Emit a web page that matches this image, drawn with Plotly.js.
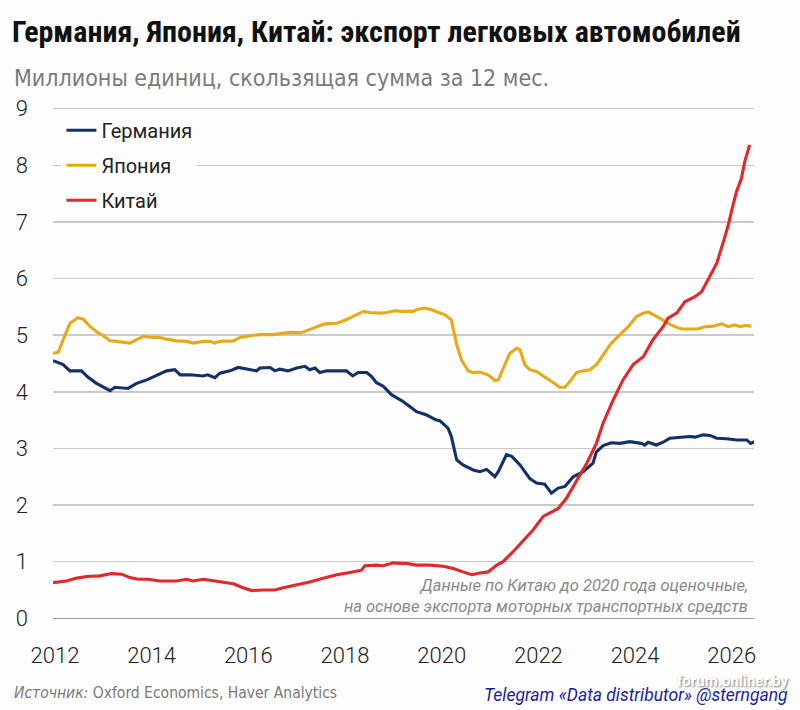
<!DOCTYPE html>
<html>
<head>
<meta charset="utf-8">
<script src="https://cdn.plot.ly/plotly-3.0.1.min.js"></script>
<style>
html,body{margin:0;padding:0;background:#fdfdfd;}
#chart{width:800px;height:710px;}
</style>
</head>
<body>
<div id="chart"></div>
<script>
// ---- Data (millions of units, 12-month rolling sum) ----
const seriesNames = ["Германия", "Япония", "Китай"];

const germanyX = [2011.96,2012.17,2012.31,2012.55,2012.68,2012.86,2013.14,2013.24,2013.51,2013.69,2013.90,2014.13,2014.31,2014.48,2014.59,2014.79,2015.06,2015.16,2015.31,2015.41,2015.62,2015.79,2016.03,2016.17,2016.24,2016.45,2016.55,2016.65,2016.82,2017.00,2017.17,2017.27,2017.38,2017.48,2017.62,2017.89,2018.03,2018.16,2018.27,2018.45,2018.55,2018.65,2018.79,2018.96,2019.20,2019.34,2019.48,2019.69,2019.89,2019.96,2020.13,2020.20,2020.31,2020.44,2020.65,2020.79,2020.93,2021.10,2021.17,2021.34,2021.45,2021.62,2021.82,2021.96,2022.13,2022.27,2022.41,2022.55,2022.72,2022.93,2023.13,2023.20,2023.34,2023.51,2023.69,2023.89,2024.13,2024.20,2024.27,2024.44,2024.58,2024.72,2024.93,2025.13,2025.24,2025.41,2025.55,2025.69,2025.89,2026.10,2026.31,2026.39,2026.48];
const germanyY = [4.55,4.48,4.37,4.37,4.26,4.15,4.02,4.08,4.06,4.15,4.21,4.30,4.37,4.39,4.30,4.30,4.28,4.30,4.25,4.33,4.37,4.43,4.39,4.37,4.42,4.43,4.37,4.40,4.37,4.42,4.45,4.39,4.42,4.34,4.37,4.37,4.37,4.28,4.34,4.34,4.27,4.16,4.10,3.95,3.83,3.74,3.65,3.59,3.50,3.49,3.36,3.21,2.80,2.71,2.62,2.59,2.63,2.50,2.59,2.89,2.86,2.71,2.47,2.39,2.37,2.21,2.30,2.33,2.50,2.59,2.74,2.94,3.05,3.10,3.09,3.12,3.09,3.06,3.11,3.06,3.11,3.18,3.20,3.21,3.20,3.24,3.23,3.18,3.17,3.15,3.15,3.09,3.12];

const japanX = [2011.96,2012.07,2012.17,2012.31,2012.48,2012.59,2012.72,2012.86,2013.00,2013.14,2013.28,2013.48,2013.55,2013.69,2013.83,2014.03,2014.17,2014.31,2014.52,2014.72,2014.86,2015.07,2015.21,2015.31,2015.41,2015.69,2015.83,2016.03,2016.24,2016.52,2016.72,2016.90,2017.07,2017.21,2017.41,2017.58,2017.83,2017.96,2018.14,2018.27,2018.38,2018.51,2018.72,2018.86,2019.03,2019.20,2019.41,2019.51,2019.65,2019.79,2019.93,2020.07,2020.20,2020.31,2020.41,2020.55,2020.65,2020.79,2020.96,2021.10,2021.17,2021.27,2021.41,2021.55,2021.62,2021.72,2021.82,2021.96,2022.13,2022.31,2022.44,2022.55,2022.65,2022.79,2022.93,2023.07,2023.20,2023.34,2023.51,2023.69,2023.86,2024.03,2024.17,2024.27,2024.37,2024.51,2024.68,2024.82,2024.96,2025.13,2025.30,2025.44,2025.62,2025.79,2025.93,2026.06,2026.17,2026.27,2026.41];
const japanY = [4.68,4.70,4.92,5.21,5.31,5.28,5.16,5.06,4.99,4.90,4.89,4.86,4.86,4.92,4.98,4.96,4.96,4.93,4.90,4.89,4.86,4.89,4.89,4.86,4.89,4.90,4.96,4.99,5.01,5.01,5.04,5.05,5.04,5.08,5.14,5.20,5.21,5.25,5.32,5.38,5.42,5.40,5.39,5.40,5.43,5.42,5.42,5.46,5.48,5.45,5.40,5.36,5.27,4.83,4.56,4.37,4.34,4.35,4.30,4.20,4.21,4.42,4.68,4.77,4.74,4.48,4.39,4.36,4.27,4.16,4.08,4.08,4.18,4.34,4.37,4.39,4.48,4.65,4.86,5.01,5.15,5.33,5.39,5.41,5.37,5.30,5.21,5.15,5.11,5.11,5.11,5.15,5.16,5.20,5.15,5.18,5.15,5.17,5.16];

const chinaX = [2011.96,2012.24,2012.45,2012.66,2012.93,2013.17,2013.38,2013.55,2013.72,2013.93,2014.17,2014.52,2014.72,2014.86,2015.07,2015.27,2015.48,2015.69,2015.89,2016.07,2016.31,2016.55,2016.72,2017.00,2017.27,2017.55,2017.83,2018.10,2018.34,2018.41,2018.65,2018.79,2019.00,2019.14,2019.27,2019.48,2019.76,2020.03,2020.24,2020.44,2020.62,2020.79,2020.96,2021.14,2021.27,2021.48,2021.69,2021.89,2022.10,2022.27,2022.41,2022.58,2022.79,2023.00,2023.20,2023.34,2023.55,2023.75,2023.96,2024.17,2024.37,2024.58,2024.68,2024.86,2025.03,2025.24,2025.38,2025.51,2025.69,2025.82,2025.93,2026.00,2026.10,2026.20,2026.27,2026.37];
const chinaY = [0.63,0.66,0.71,0.74,0.75,0.79,0.78,0.72,0.69,0.69,0.66,0.66,0.69,0.66,0.69,0.66,0.64,0.61,0.54,0.49,0.50,0.50,0.54,0.59,0.64,0.71,0.77,0.81,0.85,0.93,0.94,0.93,0.98,0.97,0.97,0.94,0.94,0.92,0.88,0.82,0.77,0.80,0.82,0.94,1.00,1.18,1.38,1.56,1.80,1.87,1.94,2.12,2.44,2.74,3.09,3.45,3.86,4.21,4.48,4.62,4.92,5.15,5.30,5.39,5.59,5.68,5.77,5.98,6.27,6.63,6.95,7.21,7.54,7.77,8.07,8.36];

const xTickVals = [2012, 2014, 2016, 2018, 2020, 2022, 2024, 2026];
const xTickText = ["2012", "2014", "2016", "2018", "2020", "2022", "2024", "2026"];
const yTickVals = [0, 1, 2, 3, 4, 5, 6, 7, 8, 9];

const colors = ["#13306b", "#e8a917", "#e4272a"];

const traces = [
  {x: germanyX, y: germanyY},
  {x: japanX, y: japanY},
  {x: chinaX, y: chinaY}
].map((d, i) => ({
  x: d.x, y: d.y, type: "scatter", mode: "lines",
  name: seriesNames[i], legendgroup: "g" + i,
  line: {color: colors[i], width: 3.1, shape: "linear"},
  hoverinfo: "skip"
}));

const condensed = "'DejaVu Sans Condensed', 'Roboto', sans-serif";

const layout = {
  width: 800, height: 710,
  paper_bgcolor: "#fdfdfd", plot_bgcolor: "#fdfdfd",
  margin: {l: 53, r: 46, t: 103, b: 86},
  showlegend: true,
  title: {
    text: "<b>Германия, Япония, Китай: экспорт легковых автомобилей</b>",
    font: {family: "Roboto, sans-serif", size: 30, color: "#111"},
    x: 12/800, xanchor: "left", xref: "container",
    y: 1 - 31/710, yanchor: "middle", yref: "container"
  },
  legend: {
    x: 0.012, y: 0.985, xanchor: "left", yanchor: "top",
    bgcolor: "#fdfdfd", borderwidth: 0,
    font: {family: "Roboto, sans-serif", size: 20, color: "#222"},
    traceorder: "grouped", tracegroupgap: 6
  },
  xaxis: {
    range: [2011.96, 2026.46],
    tickmode: "array", tickvals: xTickVals, ticktext: xTickText,
    showgrid: false, zeroline: false, showline: false, ticks: "",
    tickfont: {family: "Roboto, sans-serif", size: 22, color: "#222", weight: 300},
    ticklabelstandoff: 16
  },
  yaxis: {
    range: [-0.1, 9.1],
    tickmode: "array", tickvals: yTickVals,
    showgrid: true, gridcolor: "#cacaca", gridwidth: 1.5,
    zeroline: true, zerolinecolor: "#9a9a9a", zerolinewidth: 1.5,
    showline: false, ticks: "",
    tickfont: {family: "Roboto, sans-serif", size: 22, color: "#222", weight: 300},
    ticklabelstandoff: 24
  },
  annotations: [
    {text: "Миллионы единиц, скользящая сумма за 12 мес.",
     xref: "paper", yref: "paper", x: -41/701, y: 1 + (103 + 5.66 - 84)/520.5, xanchor: "left", yanchor: "middle",
     showarrow: false, font: {family: condensed, size: 23, color: "#7a7a7a"}},
    {text: "<i>Данные по Китаю до 2020 года оценочные,</i><br><i>на основе экспорта моторных транспортных средств</i>",
     xref: "paper", yref: "paper", x: 1 - 4/701, y: (624 - 596)/520.5, xanchor: "right", yanchor: "middle", align: "right",
     showarrow: false, font: {family: "Roboto, sans-serif", size: 16.5, color: "#8a8a8a"}},
    {text: "<i>Источник:</i> Oxford Economics, Haver Analytics",
     xref: "paper", yref: "paper", x: -41/701, y: -(693 - 624)/520.5, xanchor: "left", yanchor: "middle",
     showarrow: false, font: {family: condensed, size: 15.5, color: "#7a7a7a"}},
    {text: "<i>Telegram «Data distributor» @sterngang</i>",
     xref: "paper", yref: "paper", x: 1 + 36/701, y: -(695 - 624)/520.5, xanchor: "right", yanchor: "middle",
     showarrow: false, font: {family: "Roboto, sans-serif", size: 17.5, color: "#1c1ca6"}},
    {text: "forum.onliner.by",
     xref: "paper", yref: "paper", x: 1 + 36/701, y: -(681 - 624)/520.5, xanchor: "right", yanchor: "middle",
     showarrow: false, font: {family: "Roboto, sans-serif", size: 15, color: "#ffffff", weight: 700, shadow: "1px 1px 2px #777"}}
  ]
};

Plotly.newPlot("chart", traces, layout, {displayModeBar: false, staticPlot: true}).then(gd => {
  // condense the title to match the reference's narrow typeface
  const t = gd.querySelector(".gtitle");
  if (t) {
    t.style.fontStretch = "75%";
    const target = 736;
    const w = t.getComputedTextLength ? t.getComputedTextLength() : 0;
    if (w > target + 4) {
      const x0 = parseFloat(t.getAttribute("x")) || 12;
      t.setAttribute("transform", `translate(${x0},0) scale(${target / w},1) translate(${-x0},0)`);
    }
  }
});
</script>
</body>
</html>
